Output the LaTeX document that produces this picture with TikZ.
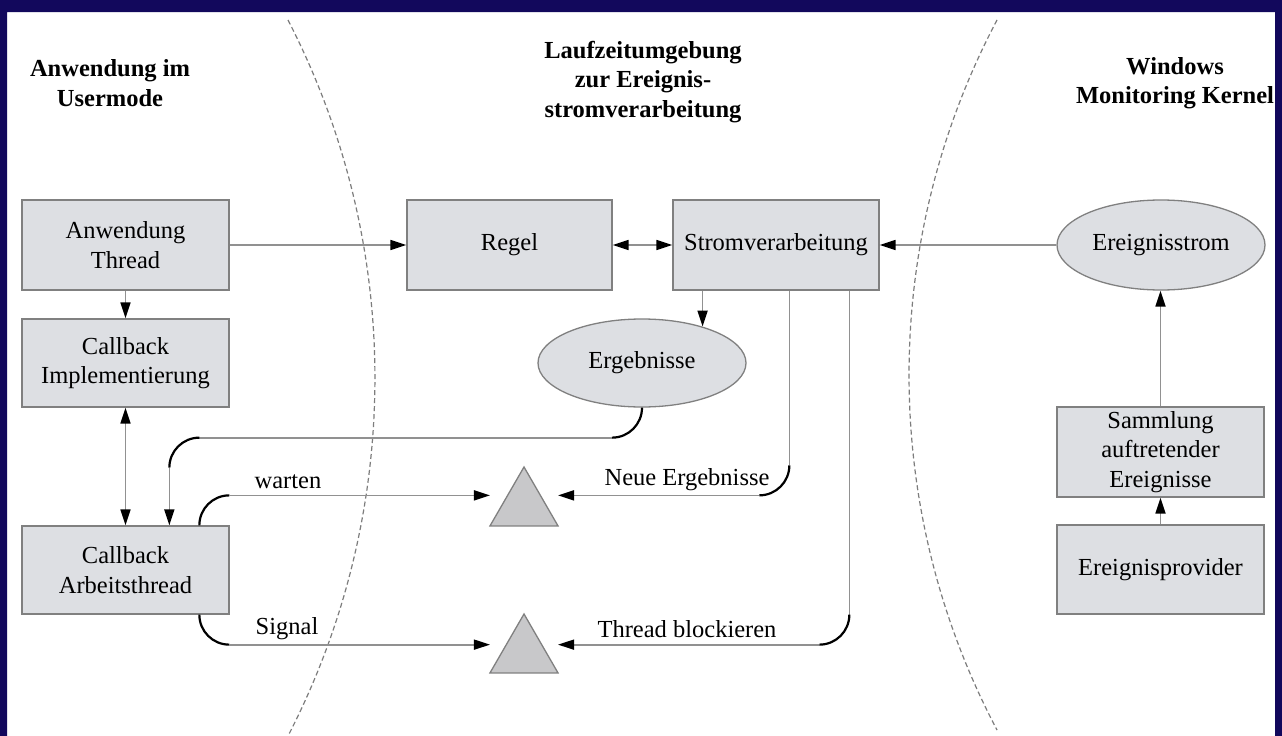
\documentclass[tikz,border=0pt]{standalone}
\usepackage{fontspec}
\setmainfont{Liberation Serif}
\usetikzlibrary{arrows.meta,shapes.geometric,calc}

\definecolor{framecol}{RGB}{18,8,92}
\definecolor{boxfill}{RGB}{221,223,227}
\definecolor{boxline}{RGB}{128,128,128}
\definecolor{wirecol}{RGB}{145,145,145}
\definecolor{trifill}{RGB}{200,200,202}
\definecolor{zonecol}{RGB}{125,125,125}

\begin{document}
\begin{tikzpicture}[x=1pt,y=-1pt,
  txt/.style={font=\fontsize{24.5}{29.5}\selectfont, align=center, inner sep=0pt},
  head/.style={txt, font=\fontsize{24.5}{29.5}\selectfont\bfseries},
  block/.style={txt, rectangle, draw=boxline, fill=boxfill, line width=1.3pt,
    minimum width=207pt, minimum height=89pt},
  blob/.style={txt, ellipse, draw=boxline, fill=boxfill, line width=1.3pt,
    minimum width=208pt, minimum height=89pt},
  gate/.style={regular polygon, regular polygon sides=3, draw=boxline, fill=trifill,
    line width=1.3pt, minimum size=78.6pt, inner sep=0pt, outer sep=0pt},
  wire/.style={draw=wirecol, line width=1.7pt},
  tip/.style={-{Triangle[length=16pt,width=10pt,color=black]}},
  arr/.style={wire, tip},
  biarr/.style={wire, {Triangle[length=16pt,width=10pt,color=black]}-{Triangle[length=16pt,width=10pt,color=black]}},
  elbow/.style={draw=black, line width=2.2pt},
  zone/.style={draw=zonecol, line width=1.2pt, dash pattern=on 5pt off 3pt}
]
\useasboundingbox (0,0) rectangle (1282,736);
\fill[white] (0,0) rectangle (1282,736);

% zone boundaries
\draw[zone] (288,20) .. controls (403.9,244.5) and (403.9,511.5) .. (288,736);
\draw[zone] (997,20) .. controls (879.7,242.1) and (879.7,507.9) .. (997,730);

% headings
\node[head] (hl) at (110,83) {Anwendung im\\Usermode};
\node[head] (hm) at (643,82) {Laufzeitumgebung\\zur Ereignis-\\stromverarbeitung};
\node[head] (hr) at (1175,83) {Windows\\Monitoring Kernel};

% user mode side
\node[block, minimum height=90pt] (appT) at (125.5,245) {Anwendung\\Thread};
\node[block, minimum height=88pt] (cbI) at (125.5,363) {Callback\\Implementierung};
\node[block, minimum height=88pt] (cbA) at (125.5,570) {Callback\\Arbeitsthread};

% runtime
\node[block, minimum width=205pt, minimum height=90pt] (regel) at (509.5,245) {Regel};
\node[block, minimum width=206pt, minimum height=90pt] (strom) at (776,245) {Stromverarbeitung};
\node[blob, minimum height=88pt] (erg) at (642,363) {Ergebnisse};
\node[gate] (tri1) at (524,506.3) {};
\node[gate] (tri2) at (524,653.3) {};

% kernel side
\node[blob, minimum height=90pt] (estrom) at (1161,245) {Ereignisstrom};
\node[block, minimum height=90pt] (samml) at (1160.5,452) {Sammlung\\auftretender\\Ereignisse};
\node[block, minimum height=89pt] (prov) at (1160.5,569.5) {Ereignisprovider};

% straight connectors
\draw[arr] (appT) -- (regel);
\draw[biarr] (regel) -- (strom);
\draw[arr] (estrom) -- (strom);
\draw[arr] (appT) -- (cbI);
\draw[biarr] (cbI) -- (cbA);
\draw[arr] (strom.south -| erg.31) -- (erg.31);
\draw[arr] (samml.north) -- (samml.north |- estrom.south);
\draw[arr] (prov.north) -- (samml.south);

% Ergebnisse -> Callback Arbeitsthread
\coordinate (r1) at ($(erg.south)+(-30,30)$);
\coordinate (r2) at ($(cbA.north west |- r1)+(178,0)$);
\coordinate (r3) at ($(r2)+(-30,30)$);
\draw[elbow] (erg.south) .. controls ($(erg.south)+(0,16.6)$) and ($(r1)+(16.6,0)$) .. (r1);
\draw[wire] (r1) -- (r2);
\draw[elbow] (r2) .. controls ($(r2)+(-16.6,0)$) and ($(r3)+(0,-16.6)$) .. (r3);
\draw[arr] (r3) -- (r3 |- cbA.north);

% warten
\coordinate (w0) at ($(cbA.north west)+(178,0)$);
\coordinate (w1) at ($(w0)+(30,-30)$);
\draw[elbow] (w0) .. controls ($(w0)+(0,-16.6)$) and ($(w1)+(-16.6,0)$) .. (w1);
\draw[arr] (w1) -- (tri1.corner 2 |- w1);
\node[txt] (lwait) at (288,482) {warten};

% Neue Ergebnisse
\coordinate (n0) at ($(strom.south west)+(117,0)$);
\coordinate (n1) at ($(n0 |- w1)+(0,-30)$);
\coordinate (n2) at ($(n0 |- w1)+(-30,0)$);
\draw[wire] (n0) -- (n1);
\draw[elbow] (n1) .. controls ($(n1)+(0,16.6)$) and ($(n2)+(16.6,0)$) .. (n2);
\draw[arr] (n2) -- (tri1.corner 3 |- n2);
\node[txt] (lneu) at (687,480) {Neue Ergebnisse};

% Signal
\coordinate (s0) at ($(cbA.south west)+(178,0)$);
\coordinate (s1) at ($(s0)+(30,30)$);
\draw[elbow] (s0) .. controls ($(s0)+(0,16.6)$) and ($(s1)+(-16.6,0)$) .. (s1);
\draw[arr] (s1) -- (tri2.corner 2 |- s1);
\node[txt] (lsig) at (287,629) {Signal};

% Thread blockieren
\coordinate (b0) at ($(strom.south west)+(177,0)$);
\coordinate (b1) at (b0 |- s0);
\coordinate (b2) at ($(b1)+(-30,30)$);
\draw[wire] (b0) -- (b1);
\draw[elbow] (b1) .. controls ($(b1)+(0,16.6)$) and ($(b2)+(16.6,0)$) .. (b2);
\draw[arr] (b2) -- (tri2.corner 3 |- b2);
\node[txt] (lblk) at (687,629) {Thread blockieren};

% outer frame
\fill[framecol, even odd rule] (0,0) rectangle (1282,736) (7,12) rectangle (1275,737);
\end{tikzpicture}
\end{document}
